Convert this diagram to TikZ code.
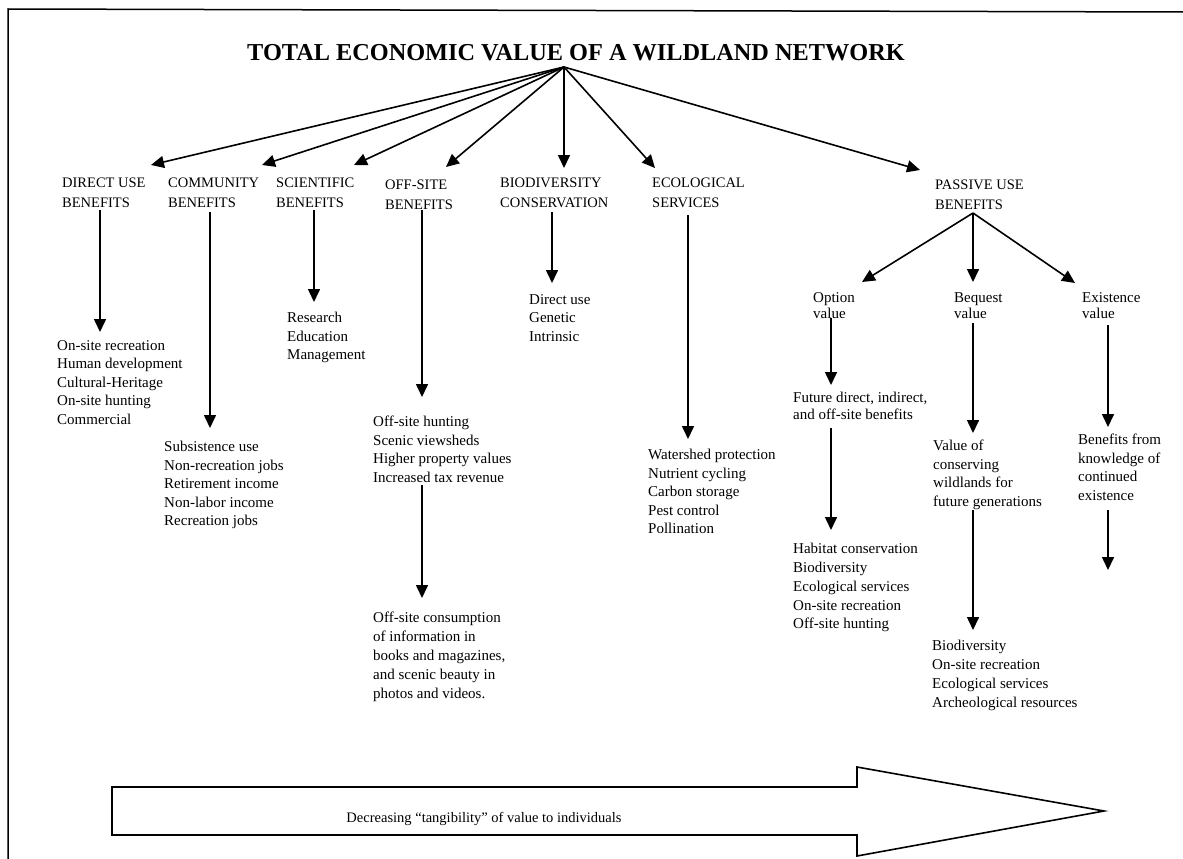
\documentclass[tikz,border=0pt]{standalone}
\usepackage{fontspec}
\setmainfont{Liberation Serif}
\usetikzlibrary{arrows.meta}
\begin{document}
\begin{tikzpicture}[x=1pt,y=-1pt,
  conn/.style={line width=1.6pt,-{Triangle[length=13pt,width=12pt]}},
  frame/.style={line width=1.5pt},
  item/.style={anchor=north west,inner sep=0pt,align=left,font=\fontsize{15}{18.5}\selectfont},
  cat/.style={anchor=north west,inner sep=0pt,align=left,font=\fontsize{14.5}{19.5}\selectfont},
  sub/.style={anchor=north west,inner sep=0pt,align=left,font=\fontsize{15}{16.5}\selectfont},
  bigarrow/.style={line width=1.6pt}]
\useasboundingbox (0,0) rectangle (1183,859);
% frame
\draw[frame] (8,859) -- (8,9) -- (1183,12);
% title
\node[inner sep=0pt,font=\fontsize{24.3}{28}\selectfont\bfseries] (title) at (576,53) {TOTAL ECONOMIC VALUE OF A WILDLAND NETWORK};
\coordinate (src) at (564,67);
% category labels
\node[cat] (lD) at (62,178) {DIRECT USE\\BENEFITS};
\node[cat] (lC) at (168,178) {COMMUNITY\\BENEFITS};
\node[cat] (lS) at (276,178) {SCIENTIFIC\\BENEFITS};
\node[cat] (lO) at (385,180) {OFF-SITE\\BENEFITS};
\node[cat] (lB) at (500,178) {BIODIVERSITY\\CONSERVATION};
\node[cat] (lE) at (652,178) {ECOLOGICAL\\SERVICES};
\node[cat] (lP) at (935,180) {PASSIVE USE\\BENEFITS};
% fan arrow tips
\coordinate (tD) at (151,165);
\coordinate (tC) at (262,165);
\coordinate (tS) at (354,165);
\coordinate (tO) at (446,167);
\coordinate (tB) at (564,168);
\coordinate (tE) at (655,168);
\coordinate (tP) at (920,170);
\foreach \t in {tD,tC,tS,tO,tB,tE,tP} \draw[conn] (src) -- (\t);
% items
\node[item] (iD) at (57,340) {On-site recreation\\Human development\\Cultural-Heritage\\On-site hunting\\Commercial};
\node[item] (iC) at (164,441) {Subsistence use\\Non-recreation jobs\\Retirement income\\Non-labor income\\Recreation jobs};
\node[item] (iS) at (287,312) {Research\\Education\\Management};
\node[item] (iO) at (373,416) {Off-site hunting\\Scenic viewsheds\\Higher property values\\Increased tax revenue};
\node[item,font=\fontsize{15}{19}\selectfont] (iO2) at (373,612) {Off-site consumption\\of information in\\books and magazines,\\and scenic beauty in\\photos and videos.};
\node[item] (iB) at (529,294) {Direct use\\Genetic\\Intrinsic};
\node[item] (iE) at (648,449) {Watershed protection\\Nutrient cycling\\Carbon storage\\Pest control\\Pollination};
% passive sub-values
\node[sub] (lOp) at (813,292) {Option\\value};
\node[sub] (lBq) at (954,292) {Bequest\\value};
\node[sub] (lEx) at (1082,292) {Existence\\value};
\node[sub] (iOp) at (793,392) {Future direct, indirect,\\and off-site benefits};
\node[item,font=\fontsize{15}{18.8}\selectfont] (iOp2) at (793,543) {Habitat conservation\\Biodiversity\\Ecological services\\On-site recreation\\Off-site hunting};
\node[item] (iBq) at (933,440) {Value of\\conserving\\wildlands for\\future generations};
\node[item,font=\fontsize{15}{18.8}\selectfont] (iBq2) at (932,640) {Biodiversity\\On-site recreation\\Ecological services\\Archeological resources};
\node[item] (iEx) at (1078,434) {Benefits from\\knowledge of\\continued\\existence};
% passive fan
\coordinate (pS) at (973,213);
\coordinate (pO) at (862,282);
\coordinate (pB) at (973,282);
\coordinate (pE) at (1075,283);
\draw[conn] (pS) -- (pO);
\draw[conn] (pS) -- (pB);
\draw[conn] (pS) -- (pE);
% vertical arrows
\coordinate (dA) at (100,210); \coordinate (dB) at (100,332);
\coordinate (cA) at (210,212); \coordinate (cB) at (210,428);
\coordinate (sA) at (314,210); \coordinate (sB) at (314,302);
\coordinate (oA) at (422,210); \coordinate (oB) at (422,397);
\coordinate (oC) at (422,485); \coordinate (oD) at (422,598);
\coordinate (bA) at (552,212); \coordinate (bB) at (552,283);
\coordinate (eA) at (688,215); \coordinate (eB) at (688,439);
\coordinate (opA) at (831,318); \coordinate (opB) at (831,385);
\coordinate (opC) at (831,428); \coordinate (opD) at (831,530);
\coordinate (bqA) at (973,323); \coordinate (bqB) at (973,433);
\coordinate (bqC) at (973,510); \coordinate (bqD) at (973,630);
\coordinate (exA) at (1108,325); \coordinate (exB) at (1108,427);
\coordinate (exC) at (1108,510); \coordinate (exD) at (1108,570);
\draw[conn] (dA) -- (dB);
\draw[conn] (cA) -- (cB);
\draw[conn] (sA) -- (sB);
\draw[conn] (oA) -- (oB);
\draw[conn] (oC) -- (oD);
\draw[conn] (bA) -- (bB);
\draw[conn] (eA) -- (eB);
\draw[conn] (opA) -- (opB);
\draw[conn] (opC) -- (opD);
\draw[conn] (bqA) -- (bqB);
\draw[conn] (bqC) -- (bqD);
\draw[conn] (exA) -- (exB);
\draw[conn] (exC) -- (exD);
% bottom big arrow
\draw[bigarrow] (112,787) -- (857,787) -- (857,767) -- (1104,811) -- (857,856) -- (857,835) -- (112,835) -- cycle;
\node[anchor=base,inner sep=0pt,font=\fontsize{14.5}{17}\selectfont] (tang) at (484,822) {Decreasing ``tangibility'' of value to individuals};
\end{tikzpicture}
\end{document}
